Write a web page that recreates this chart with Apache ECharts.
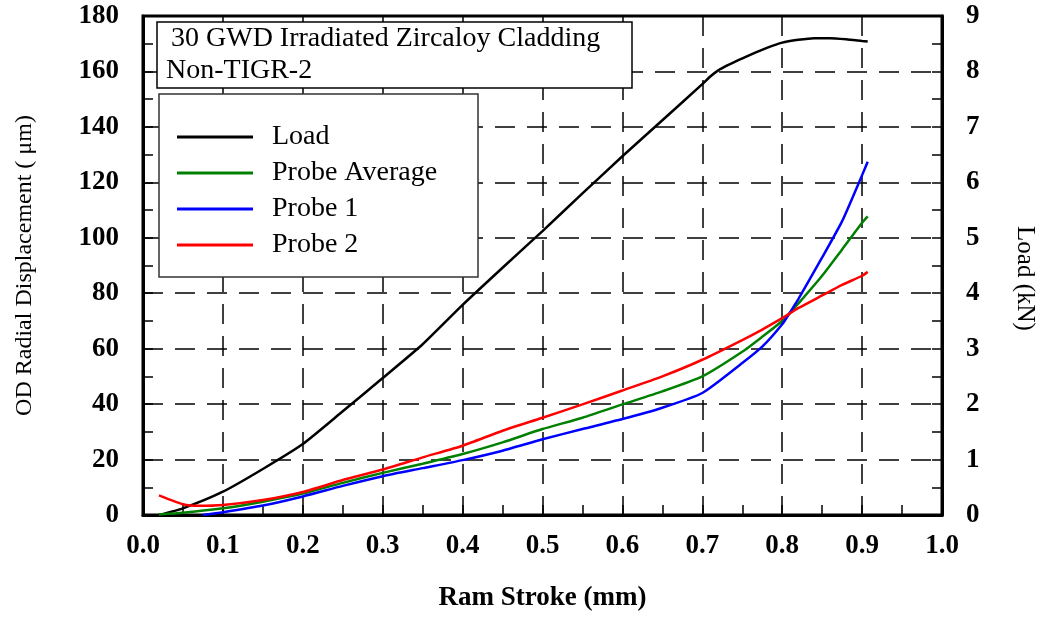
<!DOCTYPE html>
<html>
<head>
<meta charset="utf-8">
<script src="https://cdn.jsdelivr.net/npm/echarts@6/dist/echarts.min.js"></script>
<style>
html,body{margin:0;padding:0;background:#fff;}
#c{width:1045px;height:617px;}
</style>
</head>
<body>
<div id="c"></div>
<script>
// ---- Data ----
const loadX   = [0.02,0.05,0.1,0.15,0.2,0.25,0.3,0.35,0.4,0.45,0.5,0.55,0.6,0.65,0.7,0.71,0.72,0.73,0.74,0.76,0.78,0.8,0.82,0.84,0.86,0.88,0.9,0.907];
const loadKN  = [0,0.12,0.42,0.83,1.28,1.87,2.47,3.08,3.79,4.46,5.12,5.8,6.47,7.12,7.77,7.91,8.02,8.1,8.17,8.3,8.42,8.52,8.57,8.6,8.6,8.58,8.55,8.54];

const avgX    = [0.02,0.05,0.1,0.15,0.2,0.25,0.3,0.35,0.4,0.45,0.5,0.55,0.6,0.65,0.7,0.75,0.775,0.8,0.81,0.82,0.85,0.875,0.9,0.907];
const avgUm   = [0.2,0.8,2.4,4.8,7.7,11.6,15.2,18.5,22,26.2,31,35.1,39.9,44.6,50,58.9,64.3,70.0,73.0,76.2,86.3,95.8,105.4,107.7];

const p1X     = [0.075,0.1,0.15,0.2,0.25,0.3,0.35,0.4,0.45,0.5,0.55,0.6,0.65,0.7,0.75,0.775,0.8,0.81,0.82,0.85,0.875,0.9,0.907];
const p1Um    = [0,1.0,3.4,6.7,10.5,14,16.9,19.8,23.2,27.3,31,34.6,38.7,44,54.8,60.7,68.8,73.2,77.8,92.9,106,122.6,127.4];

const p2X     = [0.02,0.05,0.07,0.1,0.15,0.2,0.25,0.3,0.35,0.4,0.45,0.5,0.55,0.6,0.65,0.7,0.75,0.775,0.8,0.81,0.82,0.85,0.875,0.9,0.907];
const p2Um    = [7.1,3.9,3.3,3.6,5.4,8.3,12.6,16.4,20.8,25,30.4,35.1,39.9,44.9,50,56,63.1,66.9,71.0,72.8,74.6,79.2,83,86.3,87.7];

const seriesNames = ['Load','Probe Average','Probe 1','Probe 2'];
const titleLines = ['30 GWD Irradiated Zircaloy Cladding','Non-TIGR-2'];

function zip(xs, ys){ return xs.map((x,i)=>[x, ys[i]]); }

const FONT = '"Liberation Serif", "Times New Roman", serif';
const chart = echarts.init(document.getElementById('c'), null, {renderer:'canvas'});

const splitLine = {show:true, lineStyle:{color:'#000', width:1.5, type:[20,12]}};

chart.setOption({
  animation:false,
  backgroundColor:'#fff',
  grid:{left:143, right:102, top:16, bottom:97, show:true, borderColor:'#000', borderWidth:3},
  xAxis:{
    type:'value', min:0, max:1, interval:0.1,
    name:'Ram Stroke (mm)', nameLocation:'middle', nameGap:70,
    nameTextStyle:{fontFamily:FONT, fontSize:27, fontWeight:'bold', color:'#000'},
    axisLine:{show:true, lineStyle:{color:'#000', width:3}},
    axisTick:{show:true, inside:true, length:10, lineStyle:{color:'#000', width:1.5}},
    minorTick:{show:true, splitNumber:2, length:10, lineStyle:{color:'#000', width:1.5}},
    axisLabel:{fontFamily:FONT, fontSize:27, fontWeight:'bold', color:'#000', margin:18,
      formatter:v=>v.toFixed(1)},
    splitLine:splitLine
  },
  yAxis:[{
    type:'value', min:0, max:180, interval:20, position:'left',
    name:'OD Radial Displacement ( μm)', nameLocation:'middle', nameGap:106, nameRotate:90,
    nameTextStyle:{fontFamily:FONT, fontSize:24, color:'#000'},
    axisLine:{show:true, lineStyle:{color:'#000', width:3}},
    axisTick:{show:true, inside:true, length:10, lineStyle:{color:'#000', width:1.5}},
    minorTick:{show:true, splitNumber:2, length:10, lineStyle:{color:'#000', width:1.5}},
    axisLabel:{fontFamily:FONT, fontSize:27, fontWeight:'bold', color:'#000', margin:24},
    splitLine:splitLine
  },{
    type:'value', min:0, max:9, interval:1, position:'right',
    name:'Load (kN)', nameLocation:'middle', nameGap:70, nameRotate:-90,
    nameTextStyle:{fontFamily:FONT, fontSize:25, color:'#000', padding:[0,0,0,26]},
    axisLine:{show:true, lineStyle:{color:'#000', width:3}},
    axisTick:{show:true, inside:true, length:10, lineStyle:{color:'#000', width:1.5}},
    minorTick:{show:true, splitNumber:2, length:10, lineStyle:{color:'#000', width:1.5}},
    axisLabel:{fontFamily:FONT, fontSize:27, fontWeight:'bold', color:'#000', margin:24},
    splitLine:{show:false}
  }],
  legend:{
    show:true, orient:'vertical', left:177, top:123, padding:0,
    itemWidth:76, itemHeight:3, itemGap:8, icon:'rect',
    data:seriesNames,
    textStyle:{fontFamily:FONT, fontSize:28, color:'#000', lineHeight:27, padding:[0,0,0,14]}
  },
  graphic:[
    {type:'rect', z:3, shape:{x:157, y:22, width:475, height:66},
     style:{fill:'#fff', stroke:'#000', lineWidth:1.5}},
    {type:'text', z:4, left:171, top:25,
     style:{text:titleLines[0], font:'28px '+FONT, fill:'#000'}},
    {type:'text', z:4, left:166, top:57,
     style:{text:titleLines[1], font:'28px '+FONT, fill:'#000'}},
    {type:'rect', z:3, shape:{x:159, y:94, width:319, height:183},
     style:{fill:'#fff', stroke:'#333', lineWidth:1.5}}
  ],
  series:[
    {name:seriesNames[0], type:'line', yAxisIndex:1, data:zip(loadX, loadKN), showSymbol:false,
     smooth:0.2, color:'#000', lineStyle:{width:2.5}, z:5},
    {name:seriesNames[1], type:'line', yAxisIndex:0, data:zip(avgX, avgUm), showSymbol:false,
     smooth:0.2, color:'#008000', lineStyle:{width:2.5}, z:5},
    {name:seriesNames[2], type:'line', yAxisIndex:0, data:zip(p1X, p1Um), showSymbol:false,
     smooth:0.2, color:'#0000ff', lineStyle:{width:2.5}, z:5},
    {name:seriesNames[3], type:'line', yAxisIndex:0, data:zip(p2X, p2Um), showSymbol:false,
     smooth:0.2, color:'#ff0000', lineStyle:{width:2.5}, z:5}
  ]
});
</script>
</body>
</html>
